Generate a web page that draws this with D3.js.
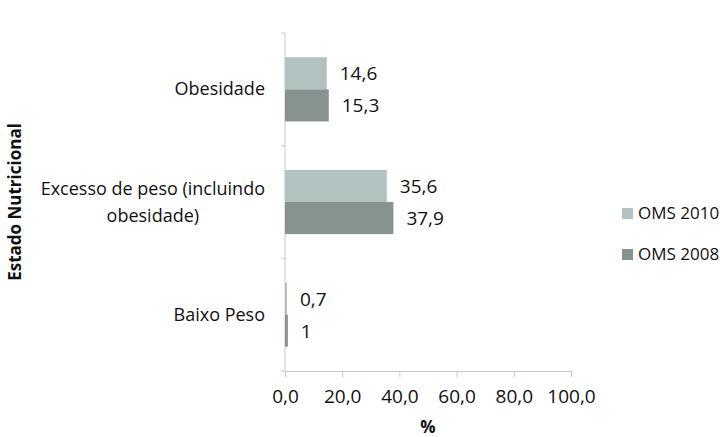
<!DOCTYPE html>
<html>
<head>
<meta charset="utf-8">
<script src="https://cdn.jsdelivr.net/npm/d3@7"></script>
<style>
body { margin: 0; background: #fff; }
text { font-family: "Open Sans", sans-serif; fill: #111; }
</style>
</head>
<body>
<svg id="chart" width="720" height="437"></svg>
<script>
// data
var categories = ['Obesidade', 'Excesso de peso (incluindo obesidade)', 'Baixo Peso'];
var catLines = [['Obesidade'], ['Excesso de peso (incluindo', 'obesidade)'], ['Baixo Peso']];
var seriesNames = ['OMS 2010', 'OMS 2008'];
var oms2010 = [14.6, 35.6, 0.7];
var oms2008 = [15.3, 37.9, 1];
var valueLabels2010 = ['14,6', '35,6', '0,7'];
var valueLabels2008 = ['15,3', '37,9', '1'];
var xTicks = [0, 20, 40, 60, 80, 100];
var colors = ['#b2c2c1', '#879391'];

var svg = d3.select('#chart');
var margin = {top: 33, right: 149, bottom: 66, left: 285};
var W = 720, H = 437;
var w = W - margin.left - margin.right, h = H - margin.top - margin.bottom;
var g = svg.append('g').attr('transform', 'translate(' + margin.left + ',' + margin.top + ')');

var x = d3.scaleLinear().domain([0, 100]).range([0, w]);
var y = d3.scaleBand().domain(categories).range([0, h]).paddingInner(0.43).paddingOuter(0.215);
var ySub = d3.scaleBand().domain(seriesNames).range([0, y.bandwidth()]);

var fmt = function(v) { return d3.format('.1f')(v).replace('.', ','); };

// x axis
var xAxis = g.append('g').attr('transform', 'translate(0,' + h + ')')
  .call(d3.axisBottom(x).tickValues(xTicks).tickFormat(fmt).tickSizeOuter(0).tickSize(6).tickPadding(13));
xAxis.select('.domain').attr('stroke', '#c8c8c8');
xAxis.selectAll('.tick line').attr('stroke', '#c8c8c8');
xAxis.selectAll('.tick text').attr('font-size', 19).attr('fill', '#111').attr('font-family', '"Open Sans", sans-serif');

// y axis line and tick marks between categories
g.append('line').attr('x1', 0).attr('x2', 0).attr('y1', 0).attr('y2', h).attr('stroke', '#c8c8c8');
var bounds = [0, h / 3, 2 * h / 3, h];
g.selectAll('.ytick').data(bounds).enter().append('line')
  .attr('x1', -4).attr('x2', 0).attr('y1', function(d) { return d; }).attr('y2', function(d) { return d; })
  .attr('stroke', '#c8c8c8');

// category labels, wrapped lines centred on each other
var yBand = d3.scaleBand().domain(categories).range([0, h]);
var cat = g.selectAll('.cat').data(categories).enter().append('text')
  .attr('text-anchor', 'middle')
  .attr('font-size', 18)
  .attr('y', function(d) { return yBand(d) + yBand.bandwidth() / 2; });
cat.each(function(d, i) {
  var lines = catLines[i];
  var el = d3.select(this);
  var lh = 27;
  lines.forEach(function(l, j) {
    el.append('tspan').attr('x', 0).attr('dy', j === 0 ? (-(lines.length - 1) * lh / 2 + 6) : lh).text(l);
  });
});
cat.each(function(d, i) {
  var bb = this.getBBox();
  d3.select(this).selectAll('tspan').attr('x', -20 - bb.width / 2);
});

// bars
var series = [oms2010, oms2008];
var labels = [valueLabels2010, valueLabels2008];
series.forEach(function(vals, s) {
  g.selectAll('.bar' + s).data(vals).enter().append('rect')
    .attr('x', 0)
    .attr('y', function(d, i) { return y(categories[i]) + ySub(seriesNames[s]); })
    .attr('width', function(d) { return x(d); })
    .attr('height', ySub.bandwidth())
    .attr('fill', colors[s]);
  g.selectAll('.lab' + s).data(vals).enter().append('text')
    .attr('x', function(d) { return x(d) + 13; })
    .attr('y', function(d, i) { return y(categories[i]) + ySub(seriesNames[s]) + ySub.bandwidth() / 2 + 7; })
    .attr('font-size', 19)
    .text(function(d, i) { return labels[s][i]; });
});

// axis titles
svg.append('text').attr('x', margin.left + x(50)).attr('y', 433)
  .attr('text-anchor', 'middle').attr('font-size', 17).attr('font-weight', 'bold').text('%');
svg.append('text').attr('transform', 'translate(21,' + (margin.top + h / 2) + ') rotate(-90)')
  .attr('text-anchor', 'middle').attr('font-size', 17).attr('font-weight', 'bold').text('Estado Nutricional');

// legend
var leg = svg.append('g').attr('transform', 'translate(622,208)');
seriesNames.forEach(function(n, i) {
  var r = leg.append('g').attr('transform', 'translate(0,' + (i * 41) + ')');
  r.append('rect').attr('width', 11).attr('height', 11).attr('fill', colors[i]);
  r.append('text').attr('x', 16).attr('y', 11).attr('font-size', 17).text(n);
});
</script>
</body>
</html>
